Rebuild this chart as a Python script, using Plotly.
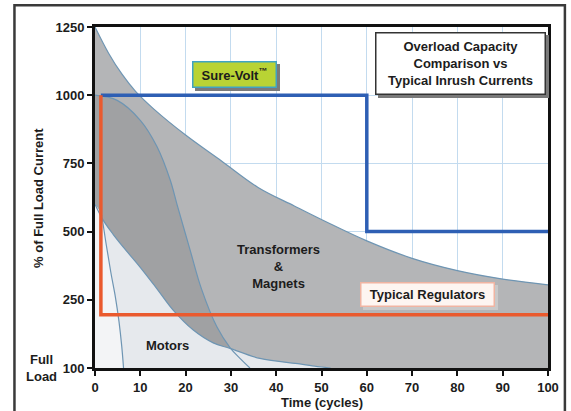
import plotly.graph_objects as go

# ---- data ----
upper_x = [0, 3, 6, 9, 13, 20, 28, 36, 44, 51, 60, 70, 80, 90, 100]
upper_y = [1250, 1154, 1076, 1013, 949, 854, 758, 662, 594, 536, 466, 402, 357, 326, 305]

inner_x = [0, 4.9, 10, 13.7, 16.6, 18.1, 21, 23.5, 26.9, 29.8, 32, 34.2]
inner_y = [1000, 981, 908, 811, 689, 600, 432, 290, 151, 75, 35, 0]

lower_x = [0, 1.8, 4, 6.2, 9.9, 13.6, 17.2, 21.7, 26.1, 29.8, 36.4, 45.2, 48, 52]
lower_y = [600, 542, 490, 444, 371, 292, 213, 139, 92, 72, 35, 15, 8, 0]

steep_x = [0, 1.5, 2.5, 3.5, 4.5, 5.3, 5.9, 6.3]
steep_y = [600, 560, 450, 350, 260, 170, 80, 0]

surevolt_x = [1.3, 60, 60, 100]
surevolt_y = [1000, 1000, 500, 500]

regulator_x = [1.3, 1.3, 100]
regulator_y = [1000, 195, 195]

x_ticks = [0, 10, 20, 30, 40, 50, 60, 70, 80, 90, 100]
y_tickvals = [0, 250, 500, 750, 1000, 1250]
y_ticktext = ["100", "250", "500", "750", "1000", "1250"]

FONT = "Liberation Sans"
TXT = "#1c1c1c"
MED = "#b4b5b7"
DARK = "#a0a1a3"
LIGHT = "#e6e9ed"
WHITE2 = "#f3f4f6"
EDGE = "#6e95b3"

fig = go.Figure()

# filled regions
fig.add_trace(go.Scatter(x=upper_x, y=upper_y, mode="lines", line=dict(width=0, shape="spline"),
                         fill="tozeroy", fillcolor=MED, hoverinfo="skip"))
fig.add_trace(go.Scatter(x=inner_x, y=inner_y, mode="lines", line=dict(width=0, shape="spline"),
                         fill="tozeroy", fillcolor=DARK, hoverinfo="skip"))
fig.add_trace(go.Scatter(x=lower_x, y=lower_y, mode="lines", line=dict(width=0, shape="spline"),
                         fill="tozeroy", fillcolor=LIGHT, hoverinfo="skip"))
fig.add_trace(go.Scatter(x=steep_x, y=steep_y, mode="lines", line=dict(width=0, shape="spline"),
                         fill="tozeroy", fillcolor=WHITE2, hoverinfo="skip"))

# curve outlines
for xs, ys in [(upper_x, upper_y), (inner_x, inner_y), (lower_x, lower_y), (steep_x[1:], steep_y[1:])]:
    fig.add_trace(go.Scatter(x=xs, y=ys, mode="lines", line=dict(color=EDGE, width=1.2, shape="spline"),
                             hoverinfo="skip"))

# Sure-Volt and regulator lines
fig.add_trace(go.Scatter(x=surevolt_x, y=surevolt_y, mode="lines",
                         line=dict(color="#2e5fb4", width=3.5), hoverinfo="skip"))
fig.add_trace(go.Scatter(x=regulator_x, y=regulator_y, mode="lines",
                         line=dict(color="#ea5a2e", width=3.5), hoverinfo="skip"))

def boxed(x, y, text, w, h, bg, border, bw=1, shadow="#7a7a7a", pad=3):
    fig.add_annotation(x=x, y=y, xref="x", yref="y", text=text, showarrow=False,
                       xanchor="center", yanchor="middle",
                       font=dict(family=FONT, size=13, color="rgba(0,0,0,0)", weight="bold"),
                       bgcolor=shadow, bordercolor=shadow, borderwidth=bw, borderpad=pad,
                       width=w, height=h, xshift=3, yshift=-3)
    fig.add_annotation(x=x, y=y, xref="x", yref="y", text=text, showarrow=False,
                       xanchor="center", yanchor="middle",
                       font=dict(family=FONT, size=13, color=TXT, weight="bold"),
                       bgcolor=bg, bordercolor=border, borderwidth=bw, borderpad=pad,
                       width=w, height=h)

boxed(30.7, 1077, "Sure-Volt<sup>™</sup>", 76, 18, "#b9d334", "#3fa3c4", bw=1.5)
boxed(80.6, 1117, "Overload Capacity<br>Comparison vs<br>Typical Inrush Currents", 162, 54,
      "#ffffff", "#333333", bw=1.5)
boxed(73.3, 268, "Typical Regulators", 126, 16, "#fdf5f1", "#f0b4a2", bw=1.5, shadow="#c9c9c9")

def label(x, y, text, xref="x", yref="y", angle=0):
    fig.add_annotation(x=x, y=y, xref=xref, yref=yref, text=text, showarrow=False, textangle=angle,
                       xanchor="center", yanchor="middle",
                       font=dict(family=FONT, size=13, color=TXT, weight="bold"))

label(40.4, 372, "Transformers<br>&<br>Magnets")
label(16, 84, "Motors")
label(-0.1187, 0.0, "Full<br>Load", xref="paper", yref="paper")
label(-0.125, 0.5, "% of Full Load Current", xref="paper", yref="paper", angle=-90)
label(0.501, -0.1, "Time (cycles)", xref="paper", yref="paper")

# outer frame
fig.add_shape(type="rect", xref="paper", yref="paper", x0=-0.1778, x1=1.0373, y0=-0.2, y1=1.0636,
              line=dict(color="#3a3a3a", width=2.5), layer="above")

fig.update_xaxes(range=[0, 100], tickvals=x_ticks, showline=True, linewidth=3, linecolor="#111",
                 mirror=True, ticks="outside", ticklen=5, tickwidth=2, tickcolor="#111",
                 showgrid=True, gridcolor="#c3dbef", gridwidth=1, zeroline=False,
                 tickfont=dict(family=FONT, size=13, color=TXT, weight="bold"))
fig.update_yaxes(range=[0, 1250], tickvals=y_tickvals, ticktext=y_ticktext, showline=True, linewidth=3,
                 linecolor="#111", mirror=True, ticks="outside", ticklen=5, tickwidth=2, tickcolor="#111",
                 showgrid=True, gridcolor="#c3dbef", gridwidth=1, zeroline=False,
                 tickfont=dict(family=FONT, size=13, color=TXT, weight="bold"))

fig.update_layout(width=571, height=411, margin=dict(l=95, r=21, t=27, b=43),
                  paper_bgcolor="white", plot_bgcolor="white", showlegend=False)

fig.write_html("out.html", config={"displayModeBar": False},
               post_script="document.body.style.margin='0px';")
